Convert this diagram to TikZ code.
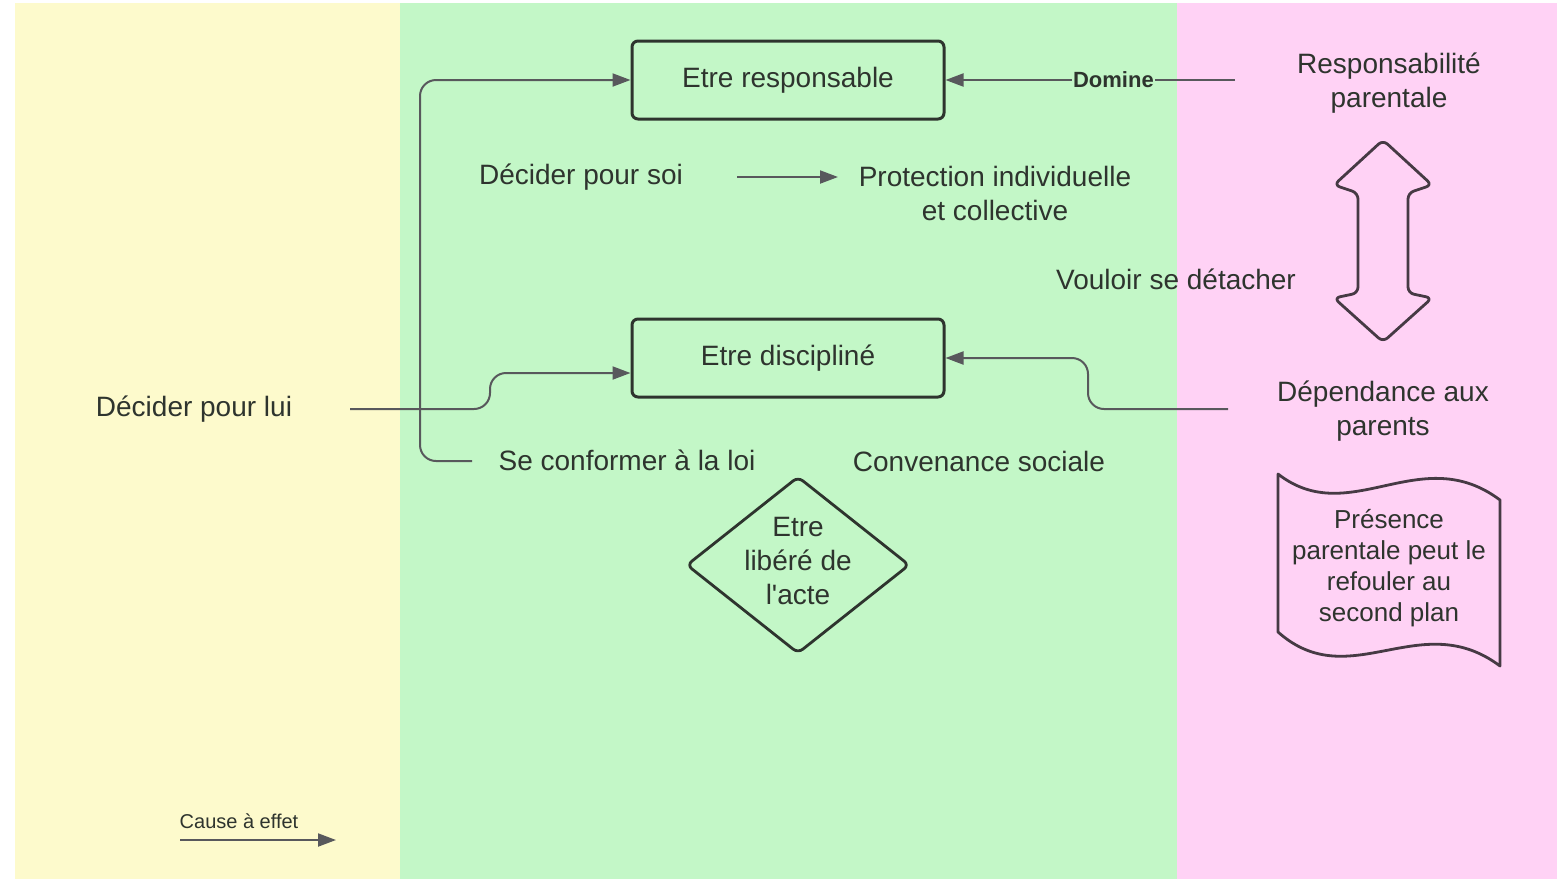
\documentclass[tikz,border=0pt]{standalone}
\usepackage{fontspec}
\setmainfont{Liberation Sans}[Ligatures=TeXOff]
\usetikzlibrary{arrows.meta,calc}
\definecolor{bgyel}{RGB}{253,250,204}
\definecolor{bggrn}{RGB}{195,247,199}
\definecolor{bgpnk}{RGB}{255,210,245}
\definecolor{ink}{RGB}{46,52,46}
\definecolor{pink ink}{RGB}{70,58,68}
\definecolor{wire}{RGB}{88,88,92}
\begin{document}
\begin{tikzpicture}[x=0.5pt,y=-0.5pt,
  txt/.style={text=ink, align=center, font=\fontsize{14}{17}\selectfont, inner sep=0pt},
  boxnode/.style={draw=ink, line width=1.5pt, rounded corners=3pt, minimum width=156pt, minimum height=39pt, text=ink, font=\fontsize{14}{17}\selectfont},
  arr/.style={draw=wire, line width=1pt, -{Triangle[length=9pt,width=6.5pt]}},
  outline/.style={draw=pink ink, line width=1.4pt, line join=round}]
\useasboundingbox (0,0) rectangle (1562,879);
\fill[white] (0,0) rectangle (1562,879);
\fill[bgyel] (15,3) rectangle (400,879);
\fill[bggrn] (400,3) rectangle (1177,879);
\fill[bgpnk] (1177,3) rectangle (1557,879);

% boxes
\node[boxnode] (resp) at (788,80) {Etre responsable};
\node[boxnode] (disc) at (788,358) {Etre disciplin\'e};

% texts
\node[txt] (soi) at (581,177) {Décider pour soi};
\node[txt] (prot) at (995,193) {Protection individuelle\\et collective};
\node[txt] (detach) at (1176,279) {Vouloir se détacher};
\node[txt] (respar) at (1389,83) {Responsabilité\\parentale};
\node[txt] (dep) at (1383,411) {Dépendance aux\\parents};
\node[txt] (lui) at (194,409) {Décider pour lui};
\node[txt] (loi) at (627,460) {Se conformer à la loi};
\node[txt] (conv) at (979,461) {Convenance sociale};
\node[txt] (lib) at (798,561) {Etre\\libéré de\\l'acte};
\node[txt, font=\fontsize{13}{15.5}\selectfont] (pres) at (1389,568) {Présence\\parentale peut le\\refouler au\\second plan};
\node[txt, font=\fontsize{10}{12}\selectfont] (cause) at (239,821) {Cause à effet};

% diamond
\draw[draw=ink, line width=1.4pt, rounded corners=3pt] (798,477) -- (909,565) -- (798,653) -- (687,565) -- cycle;

% wave document
\draw[outline] (1278,474) .. controls (1350,530) and (1420,440) .. (1500,500)
  -- (1500,666) .. controls (1420,606) and (1350,696) .. (1278,632) -- cycle;

% double arrow
\draw[outline, rounded corners=3pt] (1383,140) -- (1432,185) -- (1408,193) -- (1408,293)
  -- (1432,298) -- (1383,342) -- (1334,298) -- (1358,293) -- (1358,193) -- (1334,185) -- cycle;

% connector end points
\coordinate (soiA) at (737,177);
\coordinate (soiB) at (838,177);
\coordinate (loiA) at (472,461);
\coordinate (luiA) at (350,409);
\coordinate (depA) at (1228,409);
\coordinate (domA) at (1235,80);
\coordinate (causeA) at (180,840);
\coordinate (causeB) at (336,840);

\draw[arr] (soiA) -- (soiB);
\draw[arr, rounded corners=8pt] (loiA) -- (420,461) |- (resp.west);
\draw[arr, rounded corners=8pt] (luiA) -- (490,409) |- ($(disc.west)+(0,15)$);
\draw[arr, rounded corners=8pt] (depA) -- (1088,409) |- (disc.east);
\draw[arr] (domA) -- node[pos=0.42, fill=bggrn, inner sep=0.5pt, text=ink, font=\bfseries\fontsize{11}{13}\selectfont] (dom) {Domine} (resp.east);
\draw[arr] (causeA) -- (causeB);
\end{tikzpicture}
\end{document}
